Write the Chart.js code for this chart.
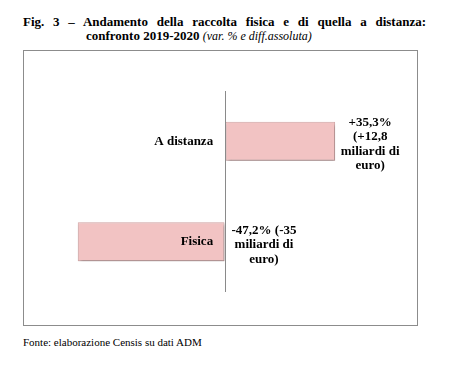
<!DOCTYPE html>
<html>
<head>
<meta charset="utf-8">
<script src="https://cdn.jsdelivr.net/npm/chart.js@4"></script>
<style>
  body { margin: 0; background: #fff; font-family: "Liberation Serif", "Times New Roman", serif; }
  #title { position: absolute; left: 23px; top: 15px; width: 403px; font-size: 13px; line-height: 14px; font-weight: bold; color: #000; }
  #title .l1 { text-align: justify; text-align-last: justify; }
  #title .l2 { padding-left: 63px; }
  #title i { font-weight: normal; font-size: 12px; }
  #frame { position: absolute; left: 23px; top: 50px; width: 393px; height: 274px; border: 1px solid #8c8c8c; }
  #frame canvas { display: block; }
  #source { position: absolute; left: 23px; top: 336px; font-size: 11px; color: #000; }
</style>
</head>
<body>
<div id="title">
  <div class="l1">Fig. 3 – Andamento della raccolta fisica e di quella a distanza:</div>
  <div class="l2">confronto 2019-2020 <i>(var. % e diff.assoluta)</i></div>
</div>
<div id="frame"><canvas id="chart" width="393" height="274"></canvas></div>
<div id="source">Fonte: elaborazione Censis su dati ADM</div>
<script>
const categories = ['A distanza', 'Fisica'];
const variations = [35.3, -47.2];
const valueLabels = [
  ['+35,3%', '(+12,8', 'miliardi di', 'euro)'],
  ['-47,2% (-35', 'miliardi di', 'euro)']
];

// soft shadow under the bars, like the office-style original
const barShadow = {
  id: 'barShadow',
  beforeDatasetDraw(chart) {
    const ctx = chart.ctx;
    ctx.save();
    ctx.shadowColor = 'rgba(0,0,0,0.4)';
    ctx.shadowBlur = 3;
    ctx.shadowOffsetX = 1;
    ctx.shadowOffsetY = 2;
  },
  afterDatasetDraw(chart) {
    chart.ctx.restore();
  }
};

const valueText = {
  id: 'valueText',
  afterDraw(chart) {
    const ctx = chart.ctx;
    const x = chart.scales.x;
    const zero = x.getPixelForValue(0);
    const lineH = 14.5;
    ctx.save();
    ctx.font = 'bold 13px "Liberation Serif", serif';
    ctx.fillStyle = '#000';
    ctx.textAlign = 'center';
    ctx.textBaseline = 'middle';
    chart.getDatasetMeta(0).data.forEach((bar, i) => {
      const lines = valueLabels[i];
      const cx = variations[i] >= 0 ? x.getPixelForValue(variations[i]) + 35 : zero + 39;
      const top = bar.y + 3 - (lines.length - 1) * lineH / 2;
      lines.forEach((t, j) => ctx.fillText(t, cx, top + j * lineH));
    });
    ctx.restore();
  }
};

new Chart(document.getElementById('chart'), {
  type: 'bar',
  data: {
    labels: categories,
    datasets: [{
      data: variations,
      backgroundColor: '#f2c3c3',
      borderColor: '#d4a6a6',
      borderWidth: 1,
      borderSkipped: false,
      categoryPercentage: 1,
      barPercentage: 0.39
    }]
  },
  options: {
    indexAxis: 'y',
    responsive: false,
    animation: false,
    layout: { padding: { left: 45, right: 36, top: 40, bottom: 33 } },
    plugins: { legend: { display: false }, tooltip: { enabled: false } },
    scales: {
      x: {
        min: -50,
        max: 50,
        border: { display: false },
        ticks: { display: false, stepSize: 10 },
        // only the zero line is shown
        grid: {
          drawTicks: false,
          z: 1,
          color: c => (c.tick && c.tick.value === 0 ? '#8a8a8a' : 'rgba(0,0,0,0)')
        }
      },
      y: {
        position: { x: -3.8 },
        grid: { display: false, drawTicks: false },
        border: { display: false },
        ticks: {
          z: 1,
          color: '#000',
          font: { family: '"Liberation Serif", serif', size: 13, weight: 'bold' }
        }
      }
    }
  },
  plugins: [barShadow, valueText]
});
</script>
</body>
</html>
